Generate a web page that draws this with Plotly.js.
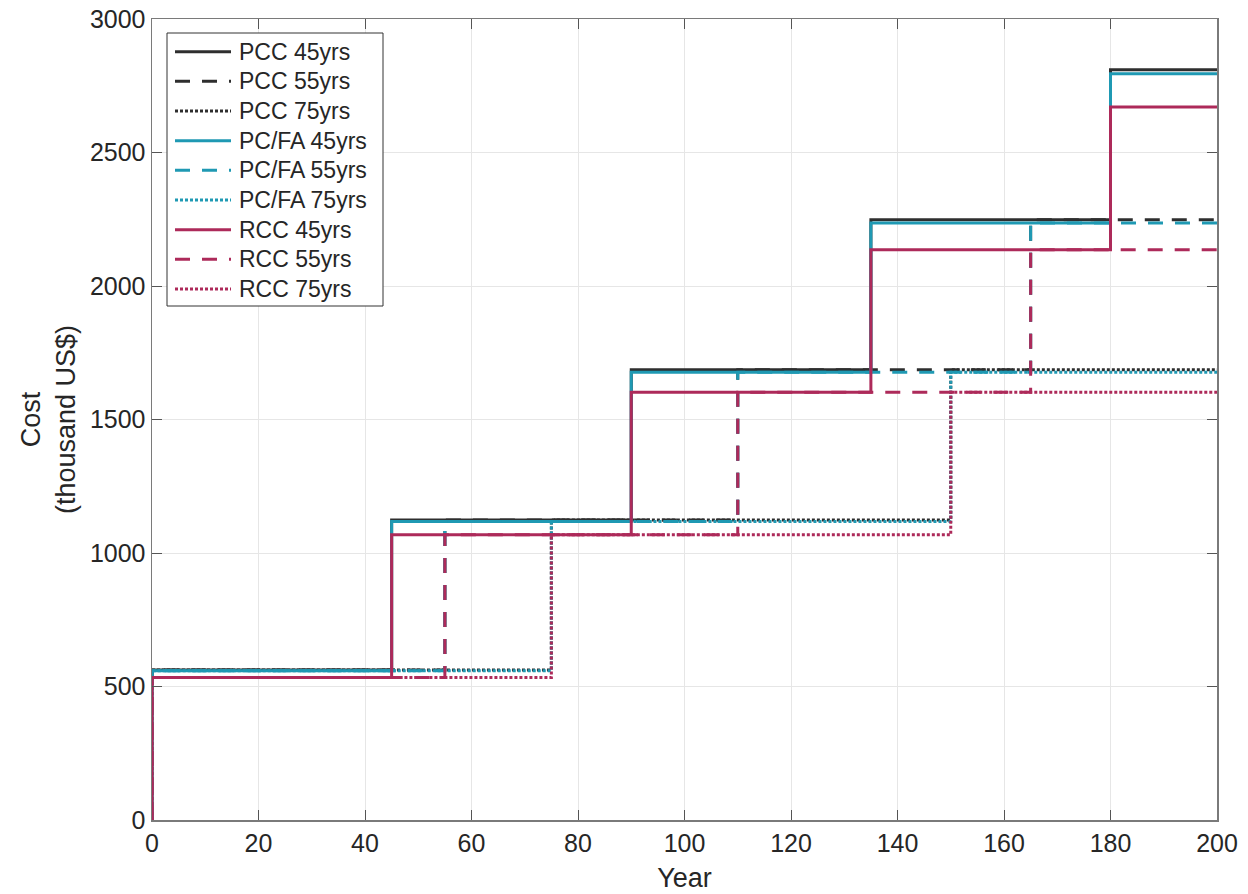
<!DOCTYPE html>
<html>
<head>
<meta charset="utf-8">
<script src="https://cdn.plot.ly/plotly-3.0.1.min.js"></script>
<style>html,body{margin:0;padding:0;background:#fff;}#chart{width:1248px;height:894px;}</style>
</head>
<body>
<div id="chart"></div>
<script>
// Replacement years (step onsets) per service life
const years45 = [0, 0, 45, 90, 135, 180, 200];
const years55 = [0, 0, 55, 110, 165, 200];
const years75 = [0, 0, 75, 150, 200];

// Cumulative cost levels (thousand US$)
const pcc45 = [0, 562, 1124, 1686, 2248, 2810, 2810];
const pcc55 = [0, 562, 1124, 1686, 2248, 2248];
const pcc75 = [0, 562, 1124, 1686, 1686];
const pcfa45 = [0, 559, 1118, 1677, 2236, 2795, 2795];
const pcfa55 = [0, 559, 1118, 1677, 2236, 2236];
const pcfa75 = [0, 559, 1118, 1677, 1677];
const rcc45 = [0, 534, 1068, 1602, 2136, 2670, 2670];
const rcc55 = [0, 534, 1068, 1602, 2136, 2136];
const rcc75 = [0, 534, 1068, 1602, 1602];

const names = ["PCC 45yrs","PCC 55yrs","PCC 75yrs","PC/FA 45yrs","PC/FA 55yrs","PC/FA 75yrs","RCC 45yrs","RCC 55yrs","RCC 75yrs"];

const cBlack = "#2e2e2e", cTeal = "#1f99b3", cRed = "#ad2a5a";
const dashS = "solid", dashD = "15px,12px", dashO = "3px,2px";

const series = [
  [years45, pcc45, cBlack, dashS],
  [years55, pcc55, cBlack, dashD],
  [years75, pcc75, cBlack, dashO],
  [years45, pcfa45, cTeal, dashS],
  [years55, pcfa55, cTeal, dashD],
  [years75, pcfa75, cTeal, dashO],
  [years45, rcc45, cRed, dashS],
  [years55, rcc55, cRed, dashD],
  [years75, rcc75, cRed, dashO]
];

const traces = series.map((s, i) => ({
  x: s[0], y: s[1], name: names[i], type: "scatter", mode: "lines",
  line: {shape: "hv", color: s[2], dash: s[3], width: 3},
  showlegend: false
}));

const font = {family: "Liberation Sans, Arial, sans-serif", color: "#262626"};

// plot-area geometry (pixels) for legend placement in paper coordinates
const W = 1248, H = 894, mL = 152, mR = 31, mT = 19, mB = 74;
const pw = W - mL - mR, ph = H - mT - mB;
const px = v => (v - mL) / pw;
const py = v => (H - mB - v) / ph;

// custom legend (MATLAB-like, longer line samples)
const shapes = [{
  type: "rect", xref: "paper", yref: "paper",
  x0: px(167), x1: px(383), y0: py(306), y1: py(33),
  line: {color: "#333", width: 1}, fillcolor: "#fff", layer: "above"
}];
const annotations = [];
series.forEach((s, i) => {
  const yc = 51.7 + i * 29.66;
  shapes.push({
    type: "line", xref: "paper", yref: "paper",
    x0: px(175), x1: px(231), y0: py(yc), y1: py(yc),
    line: {color: s[2], dash: s[3], width: 3}, layer: "above"
  });
  annotations.push({
    xref: "paper", yref: "paper", x: px(237), y: py(yc),
    xanchor: "left", yanchor: "middle", showarrow: false,
    text: names[i], font: Object.assign({size: 23}, font)
  });
});

const layout = {
  width: W, height: H,
  margin: {l: mL, r: mR, t: mT, b: mB},
  paper_bgcolor: "#fff", plot_bgcolor: "#fff",
  font: Object.assign({size: 25}, font),
  showlegend: false,
  shapes: shapes,
  annotations: annotations,
  xaxis: {
    range: [0, 200], tickmode: "linear", tick0: 0, dtick: 20,
    showline: true, mirror: "ticks", linecolor: "#7a7a7a", linewidth: 1.5,
    ticks: "inside", ticklen: 10, tickcolor: "#555", tickwidth: 1,
    showgrid: true, gridcolor: "#e6e6e6", gridwidth: 1, zeroline: false,
    tickfont: Object.assign({size: 25}, font),
    title: {text: "Year", font: Object.assign({size: 27}, font), standoff: 12}
  },
  yaxis: {
    range: [0, 3000], tickmode: "linear", tick0: 0, dtick: 500,
    showline: true, mirror: "ticks", linecolor: "#7a7a7a", linewidth: 1.5,
    ticks: "inside", ticklen: 10, tickcolor: "#555", tickwidth: 1,
    showgrid: true, gridcolor: "#e6e6e6", gridwidth: 1, zeroline: false,
    tickfont: Object.assign({size: 25}, font),
    title: {text: "Cost<br>(thousand US$)", font: Object.assign({size: 27}, font), standoff: 6}
  }
};

Plotly.newPlot("chart", traces, layout, {staticPlot: true, displayModeBar: false});
</script>
</body>
</html>
